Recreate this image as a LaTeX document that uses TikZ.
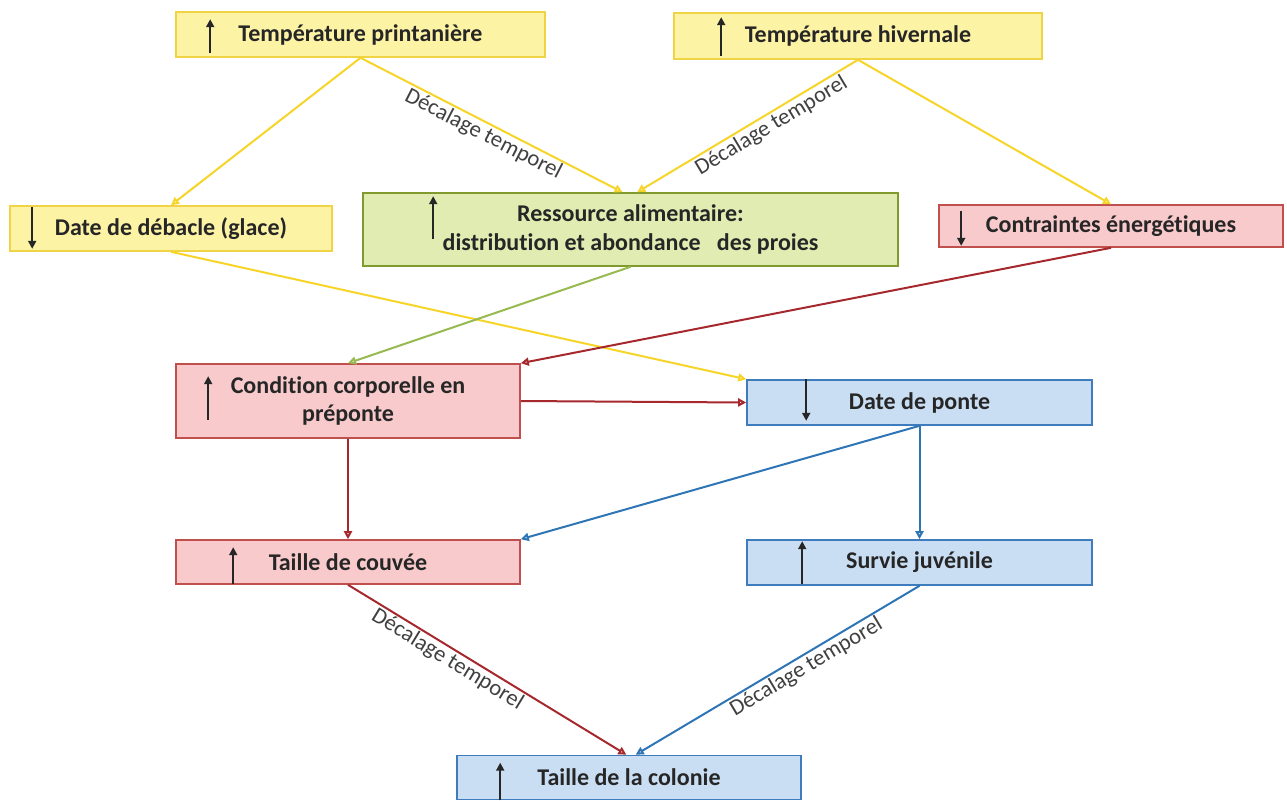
\documentclass[tikz,border=0pt]{standalone}
\usepackage{fontspec}
\setmainfont[Ligatures=NoCommon]{Carlito}
\usetikzlibrary{arrows.meta}
\definecolor{yfill}{RGB}{253,243,165}
\definecolor{ydraw}{RGB}{240,212,70}
\definecolor{yline}{RGB}{246,212,40}
\definecolor{gfill}{RGB}{224,236,178}
\definecolor{gdraw}{RGB}{128,154,46}
\definecolor{gline}{RGB}{150,186,80}
\definecolor{rfill}{RGB}{248,202,204}
\definecolor{rdraw}{RGB}{192,80,77}
\definecolor{rline}{RGB}{166,40,44}
\definecolor{bfill}{RGB}{202,222,243}
\definecolor{bdraw}{RGB}{62,124,190}
\definecolor{bline}{RGB}{46,117,182}
\tikzset{
  box/.style={draw, line width=1.2pt, inner sep=0pt, align=center,
    font=\bfseries\fontsize{18}{21.5}\selectfont, text=black!85},
  ybox/.style={box, draw=ydraw, fill=yfill},
  gbox/.style={box, draw=gdraw, fill=gfill},
  rbox/.style={box, draw=rdraw, fill=rfill},
  bbox/.style={box, draw=bdraw, fill=bfill},
  link/.style={line width=1.5pt, -{Triangle[open,length=6pt,width=6pt]}},
  ylink/.style={link, draw=yline},
  glink/.style={link, draw=gline},
  rlink/.style={link, draw=rline},
  blink/.style={link, draw=bline},
  ind/.style={line width=1.6pt, black!85, -{Triangle[length=6pt,width=6pt]}},
  lbl/.style={sloped, below, inner sep=1pt, text=black!75,
    font=\fontsize{17}{17}\selectfont}
}
\begin{document}
\begin{tikzpicture}[x=0.75pt,y=-0.75pt]
\useasboundingbox (0,0) rectangle (1287,800);

% Boxes
\node[ybox, minimum width=276.75pt, minimum height=33.75pt] (tp) at (360.5,34.5) {Température printanière};
\node[ybox, minimum width=276pt, minimum height=34.5pt] (th) at (858,36) {Température hivernale};
\node[ybox, minimum width=241.5pt, minimum height=33.75pt] (deb) at (171,228.5) {Date de débacle (glace)};
\node[gbox, minimum width=401.25pt, minimum height=54.75pt] (res) at (630.5,229.5) {Ressource alimentaire:\\distribution et abondance \ \ des proies};
\node[rbox, minimum width=258pt, minimum height=31.5pt] (cont) at (1111,226) {Contraintes énergétiques};
\node[rbox, minimum width=258pt, minimum height=55.5pt] (cond) at (348,401) {Condition corporelle en\\préponte};
\node[bbox, minimum width=258.75pt, minimum height=33.75pt] (ponte) at (919.5,402.5) {Date de ponte};
\node[rbox, minimum width=258pt, minimum height=33pt] (couv) at (348,562) {Taille de couvée};
\node[bbox, minimum width=258.75pt, minimum height=33.75pt] (surv) at (919.5,562.5) {Survie juvénile};
\node[bbox, minimum width=258pt, minimum height=33pt] (col) at (629,777.5) {Taille de la colonie};

% Up / down indicators
\draw[ind] ([shift={(35,-5)}]tp.south west) -- ([shift={(35,8)}]tp.north west);
\draw[ind] ([shift={(48,-4)}]th.south west) -- ([shift={(48,5)}]th.north west);
\draw[ind] ([shift={(23,2)}]deb.north west) -- ([shift={(23,-3)}]deb.south west);
\draw[ind] ([shift={(71,-28)}]res.south west) -- ([shift={(71,4)}]res.north west);
\draw[ind] ([shift={(23,7)}]cont.north west) -- ([shift={(23,-2)}]cont.south west);
\draw[ind] ([shift={(33,-19)}]cond.south west) -- ([shift={(33,13)}]cond.north west);
\draw[ind] ([shift={(60,0)}]ponte.north west) -- ([shift={(60,-5)}]ponte.south west);
\draw[ind] ([shift={(58,-1)}]couv.south west) -- ([shift={(58,8)}]couv.north west);
\draw[ind] ([shift={(56,-2)}]surv.south west) -- ([shift={(56,2)}]surv.north west);
\draw[ind] ([shift={(44,0)}]col.south west) -- ([shift={(44,8)}]col.north west);

% Connectors
\draw[ylink] (tp.south) -- (deb.north);
\draw[ylink] (tp.south) -- node[lbl, pos=0.49] {Décalage temporel} ([xshift=-6pt]res.north);
\draw[ylink] (th.south) -- node[lbl, pos=0.42] {Décalage temporel} ([xshift=5pt]res.north);
\draw[ylink] (th.south) -- (cont.north);
\draw[ylink] (deb.south) -- (ponte.north west);
\draw[glink] (res.south) -- (cond.north);
\draw[rlink] (cont.south) -- (cond.north east);
\draw[rlink] (cond.east) -- (ponte.west);
\draw[rlink] (cond.south) -- (couv.north);
\draw[blink] (ponte.south) -- (couv.north east);
\draw[blink] (ponte.south) -- (surv.north);
\draw[rlink] (couv.south) -- node[lbl, pos=0.38] {Décalage temporel} ([xshift=-2pt]col.north);
\draw[blink] (surv.south) -- node[lbl, pos=0.42] {Décalage temporel} ([xshift=5pt]col.north);

\end{tikzpicture}
\end{document}
